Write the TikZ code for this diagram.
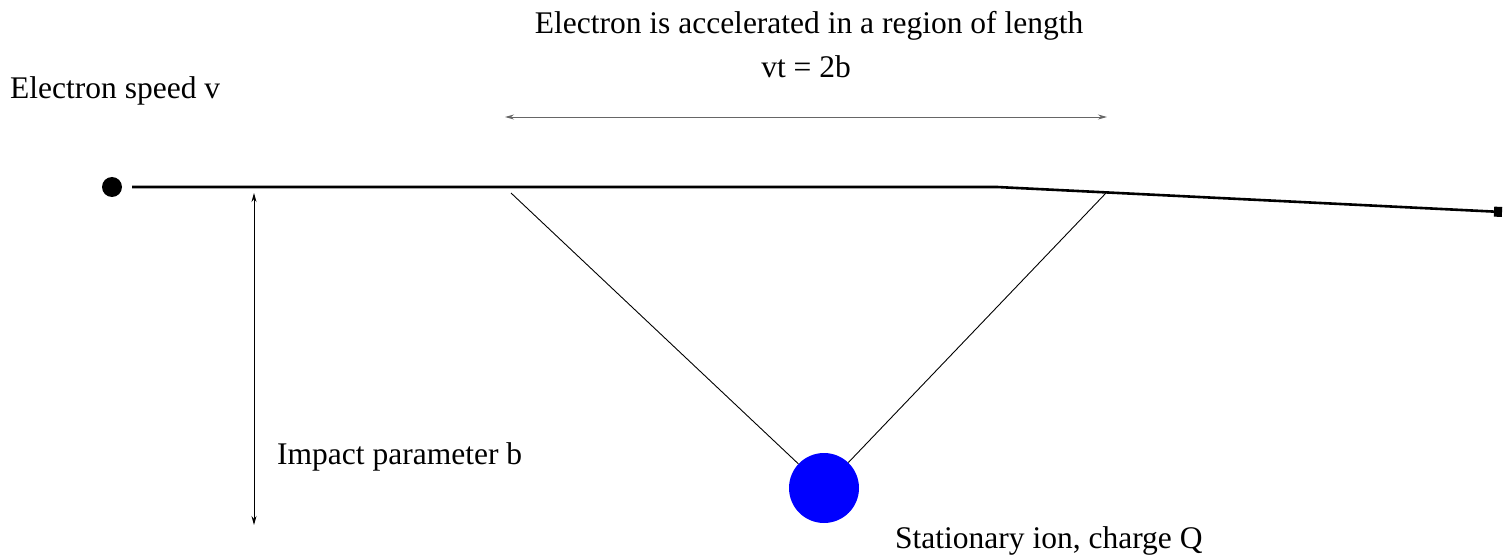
\documentclass[tikz,border=0pt]{standalone}
\usepackage{fontspec}
\setmainfont{Liberation Serif}
\usetikzlibrary{arrows.meta}
\definecolor{ionblue}{RGB}{0,0,255}
\begin{document}
\begin{tikzpicture}[x=1pt,y=-1pt,
  lbl/.style={font=\fontsize{31.5}{36}\selectfont, inner sep=0pt},
  thinline/.style={line width=0.9pt},
  dimarrow/.style={line width=0.9pt, {Stealth[length=9pt,width=5pt]}-{Stealth[length=9pt,width=5pt]}},
  pathline/.style={line width=2.6pt}]
\useasboundingbox (0,0) rectangle (1504,556);
\node[lbl, anchor=west] (speed) at (10,91) {Electron speed v};
\node[lbl] (title) at (809,26) {Electron is accelerated in a region of length};
\node[lbl] (vt) at (806,67) {vt = 2b};
\node[lbl, anchor=west] (impact) at (277,457) {Impact parameter b};
\node[lbl, anchor=west] (ion) at (895,541) {Stationary ion, charge Q};
\fill (112,187) circle (10);
\node[circle, fill=ionblue, minimum size=70pt, inner sep=0pt] (ioncirc) at (824,488) {};
\coordinate (p0) at (132,187);
\coordinate (p1) at (997,187);
\coordinate (p2) at (1502,212);
\draw[pathline, -{Square[length=8pt,width=10pt]}] (p0) -- (p1) -- (p2);
\coordinate (la) at (511,193);
\coordinate (ra) at (1106,193);
\draw[thinline] (la) -- (ioncirc);
\draw[thinline] (ra) -- (ioncirc);
\coordinate (h1) at (505,117);
\coordinate (h2) at (1107,117);
\draw[dimarrow, draw=black!60] (h1) -- (h2);
\coordinate (v1) at (254,193);
\coordinate (v2) at (254,525);
\draw[dimarrow] (v1) -- (v2);
\end{tikzpicture}
\end{document}
